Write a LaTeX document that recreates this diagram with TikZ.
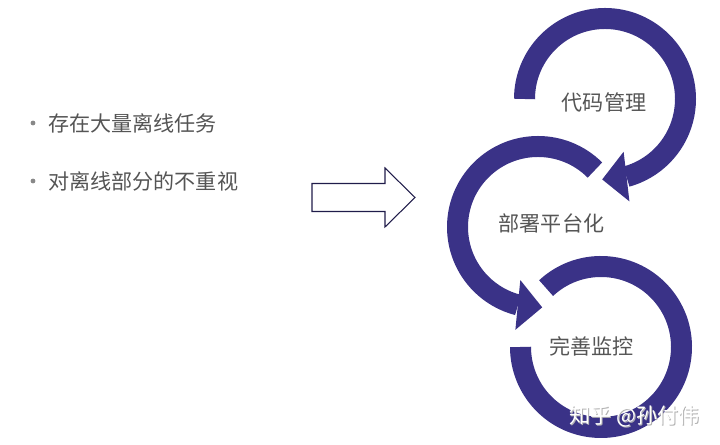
\documentclass[tikz,border=0pt]{standalone}
\usepackage{fontspec}
\newfontfamily\cjk{Noto Sans CJK SC}
\usepackage{xcolor}
\usepackage{tikz}
\usetikzlibrary{arrows.meta,bending,positioning}
\definecolor{ringblue}{RGB}{58,50,135}
\definecolor{txtgray}{RGB}{85,85,85}

\begin{document}
\begin{tikzpicture}[x=0.02cm,y=0.02cm,
  ring/.style={draw=ringblue,line width=0.42cm},
  ringtip/.style={-{Triangle[length=0.49cm,width=1cm,line width=0pt]}},
  lbl/.style={font=\cjk\fontsize{12}{14}\selectfont,text=txtgray,inner sep=0pt}]
  \useasboundingbox (0,0) rectangle (720,445);
  % left side
  \fill[txtgray!70] (33,322) circle (2.4);
  \fill[txtgray!70] (33,264) circle (2.4);
  \node[lbl,anchor=west] (task) at (48,322) {存在大量离线任务};
  \node[lbl,anchor=west] (care) at (48,264) {对离线部分的不重视};
  % hollow arrow
  \draw[line width=0.6pt,draw=ringblue!55!black]
    (312,233.5) -- (385,233.5) -- (385,218) -- (415,247.5)
    -- (385,277) -- (385,261.5) -- (312,261.5) -- cycle;
  % three rings
  \coordinate (c1) at (605,346);
  \coordinate (c2) at (538,218);
  \coordinate (c3) at (601,98);
  \draw[ring,ringtip] ([shift={(180:80.5)}]c1) arc[start angle=180,end angle=-92,radius=80.5];
  \draw[ring,ringtip] ([shift={(45:80.5)}]c2) arc[start angle=45,end angle=273,radius=80.5];
  \draw[ring] ([shift={(133:80.5)}]c3) arc[start angle=133,end angle=-180,radius=80.5];
  \node[lbl] (code) at (604,343) {代码管理};
  \node[lbl] (deploy) at (551.5,222) {部署平台化};
  \node[lbl] (monitor) at (591.5,99) {完善监控};
  % watermark, white with a faint shadow
  \node[lbl,text=black!30] at (635.5,28) {知乎 @孙付伟};
  \node[lbl,text=white] (mark) at (634.5,29) {知乎 @孙付伟};
\end{tikzpicture}
\end{document}
